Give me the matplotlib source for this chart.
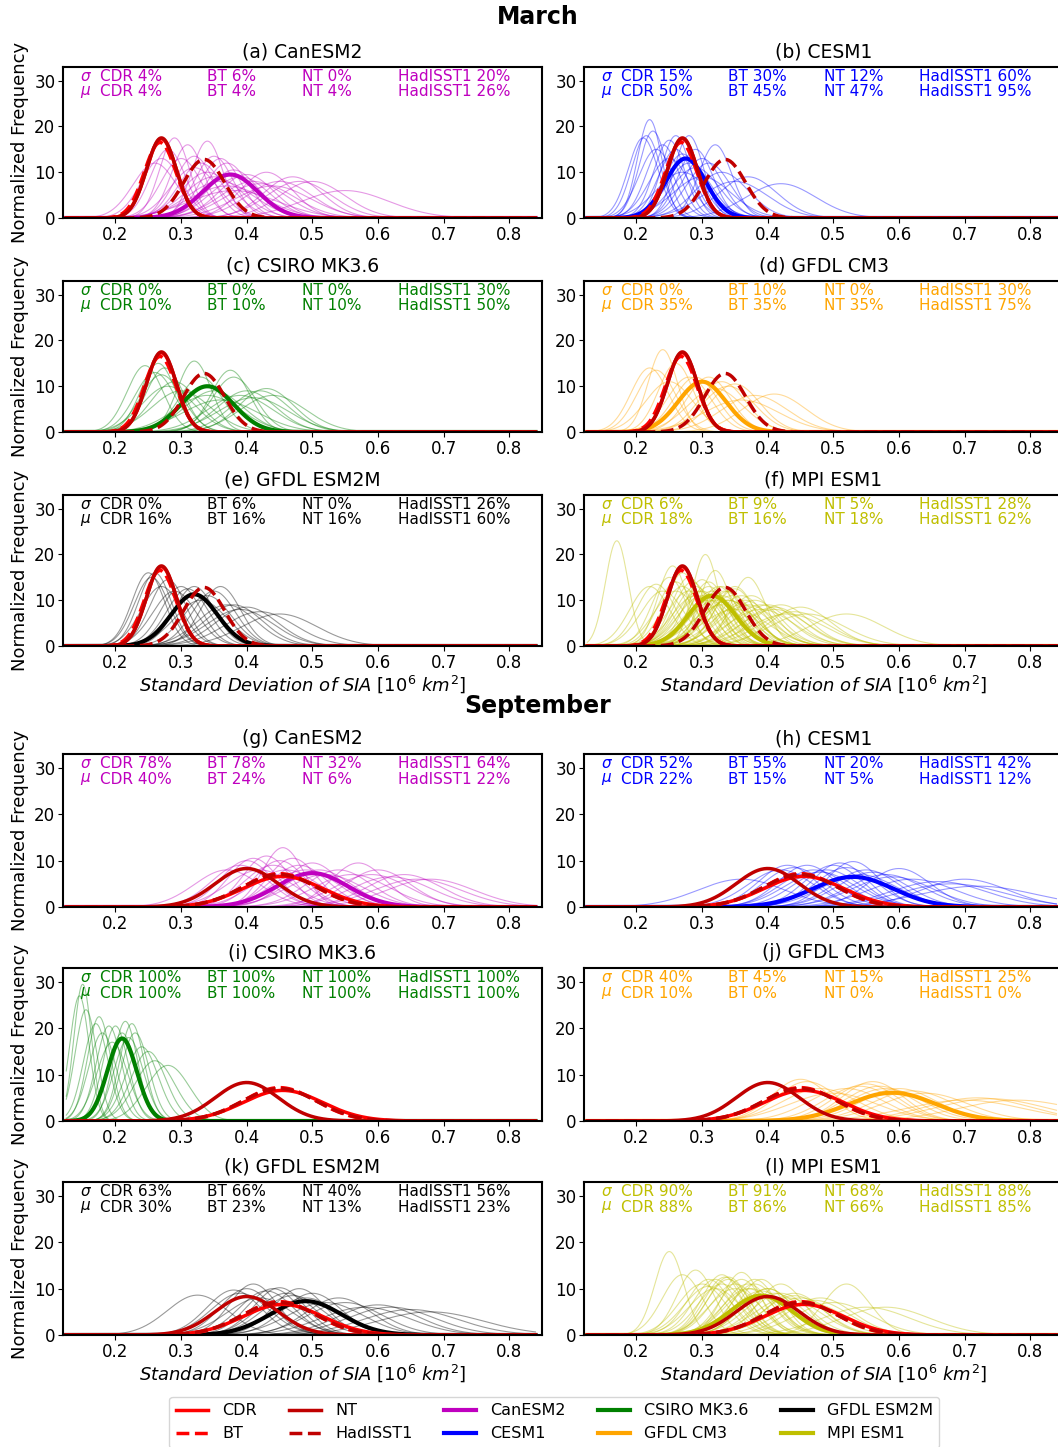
import numpy as np
import matplotlib.pyplot as plt

# ensemble member fits: mean and peak height of each curve
models = ['CanESM2', 'CESM1', 'CSIRO MK3.6', 'GFDL CM3', 'GFDL ESM2M', 'MPI ESM1']
model_colors = ['m', 'b', 'g', 'orange', 'k', 'y']

mar_mu = [
    [0.26, 0.27, 0.28, 0.29, 0.30, 0.31, 0.32, 0.32, 0.33, 0.34, 0.34, 0.35, 0.35, 0.36, 0.36,
     0.37, 0.37, 0.38, 0.38, 0.39, 0.40, 0.41, 0.42, 0.43, 0.44, 0.45, 0.47, 0.48, 0.50, 0.55],
    [0.21, 0.215, 0.22, 0.225, 0.23, 0.24, 0.25, 0.25, 0.26, 0.26, 0.27, 0.27, 0.28, 0.28, 0.29,
     0.29, 0.30, 0.30, 0.31, 0.32, 0.33, 0.35, 0.37, 0.42],
    [0.245, 0.26, 0.265, 0.27, 0.275, 0.28, 0.29, 0.30, 0.32, 0.33, 0.34, 0.35, 0.36, 0.375,
     0.38, 0.39, 0.40, 0.41, 0.42, 0.43, 0.44],
    [0.22, 0.23, 0.24, 0.25, 0.26, 0.28, 0.29, 0.30, 0.31, 0.32, 0.33, 0.34, 0.35, 0.36, 0.38, 0.41],
    [0.25, 0.255, 0.26, 0.27, 0.28, 0.29, 0.30, 0.31, 0.32, 0.33, 0.34, 0.35, 0.36, 0.37, 0.38,
     0.39, 0.40, 0.42, 0.45],
    [0.17, 0.22, 0.23, 0.24, 0.25, 0.255, 0.26, 0.27, 0.28, 0.28, 0.29, 0.29, 0.30, 0.30, 0.305,
     0.31, 0.31, 0.32, 0.32, 0.33, 0.33, 0.34, 0.34, 0.35, 0.35, 0.36, 0.37, 0.37, 0.38, 0.39,
     0.40, 0.41, 0.42, 0.43, 0.45, 0.46, 0.52, 0.26, 0.27, 0.285, 0.295, 0.30, 0.31, 0.315,
     0.32, 0.325, 0.33, 0.335, 0.34, 0.345, 0.35, 0.36, 0.365, 0.375, 0.39, 0.41, 0.44],
]
mar_pk = [
    [12, 13, 15, 17.5, 13, 16, 13.5, 11, 12, 16.8, 10, 13.5, 9, 13, 8,
     12, 7, 10.5, 6, 9, 9.5, 8, 7.5, 10, 7, 8, 9, 8, 8, 6],
    [17.5, 18, 21.5, 19, 15, 16, 13, 17, 15, 18, 14, 10, 18, 12, 15,
     11, 13, 9, 12, 16, 10, 8, 9, 7.5],
    [14.5, 13, 15, 12.5, 14, 10, 11, 9, 15.5, 12, 8, 9, 7, 13.5,
     12, 8, 9, 7.5, 9, 9.5, 8],
    [14, 13.5, 18, 11, 15, 12, 12, 11, 12, 9.5, 11, 10, 10.5, 7, 8, 8.3],
    [16, 15, 16, 13, 14.5, 12, 13, 12.5, 13, 10, 11, 12, 13, 9, 9,
     8, 8.5, 7.5, 7],
    [23, 13, 13.5, 12, 15, 17.5, 14, 16, 15, 12, 13, 11, 14.5, 12, 20,
     13, 10, 16.5, 11, 13, 9, 12, 10, 12.5, 8, 11, 15, 9, 10, 8,
     9, 8.5, 9, 7, 8.5, 7, 7, 12, 13, 14, 12, 11, 14, 12,
     10, 13, 11, 12, 10, 11, 13, 9, 10, 11, 9, 8, 7.5],
]
sep_mu = [
    [0.37, 0.39, 0.40, 0.41, 0.42, 0.43, 0.44, 0.45, 0.455, 0.46, 0.47, 0.48, 0.49, 0.50, 0.51,
     0.52, 0.54, 0.56, 0.57, 0.59, 0.60, 0.62, 0.64, 0.66, 0.68],
    [0.36, 0.42, 0.43, 0.44, 0.45, 0.46, 0.47, 0.48, 0.49, 0.50, 0.51, 0.52, 0.53, 0.54, 0.55,
     0.56, 0.58, 0.59, 0.60, 0.62, 0.66, 0.68, 0.70, 0.72],
    [0.145, 0.15, 0.155, 0.17, 0.175, 0.18, 0.19, 0.195, 0.20, 0.21, 0.215, 0.22, 0.225, 0.23,
     0.24, 0.25, 0.26, 0.28],
    [0.45, 0.46, 0.48, 0.50, 0.52, 0.54, 0.55, 0.56, 0.57, 0.58, 0.60, 0.62, 0.64, 0.70, 0.72,
     0.74, 0.78],
    [0.325, 0.38, 0.39, 0.40, 0.41, 0.42, 0.43, 0.44, 0.45, 0.46, 0.47, 0.48, 0.49, 0.50, 0.52,
     0.54, 0.55, 0.58, 0.60, 0.62, 0.65, 0.68],
    [0.25, 0.27, 0.29, 0.30, 0.31, 0.32, 0.33, 0.335, 0.34, 0.35, 0.36, 0.37, 0.38, 0.39, 0.40,
     0.41, 0.42, 0.43, 0.44, 0.45, 0.46, 0.48, 0.50, 0.52, 0.55, 0.58, 0.31, 0.32, 0.33, 0.34,
     0.35, 0.36, 0.37, 0.375, 0.38, 0.39, 0.40, 0.42, 0.44, 0.47],
]
sep_pk = [
    [8, 9, 10, 10.5, 8, 11, 9, 10, 12.8, 8, 10.5, 9, 8, 9.5, 8,
     7, 8, 7, 9.5, 7, 8, 6.5, 7, 6, 6],
    [6, 8, 9, 8.5, 7, 9, 8, 7.5, 8, 9, 9.5, 8.5, 9.8, 7, 8,
     7.5, 7, 6.5, 8.3, 6, 5.5, 5, 6, 4.5],
    [27, 29.5, 24, 21, 22.5, 19, 20.5, 17, 20.5, 19, 21.5, 18, 21, 19,
     16, 15, 13, 12],
    [9, 8.5, 7, 6, 7, 7.5, 8, 8.5, 7.5, 7, 7, 6.5, 6, 4.5, 5,
     4.8, 4.5],
    [8.6, 9.7, 9, 10, 11, 8, 9.5, 10, 10.2, 9, 8.5, 10, 8, 9, 7,
     8, 7, 6, 6.5, 6, 5.5, 5],
    [18, 13, 14, 11, 12, 10, 13, 12.5, 12, 11, 13.5, 10, 11, 12, 10,
     9, 11, 8, 9, 8, 7, 8, 7, 11, 6, 6, 10.5, 12, 11, 12.5,
     10, 12, 11, 10, 12, 9.5, 10, 9, 8.5, 7.5],
]

# ensemble mean fits
mar_mean_mu = [0.375, 0.275, 0.34, 0.30, 0.32, 0.315]
mar_mean_pk = [9.5, 13, 10, 11, 11.3, 11]
sep_mean_mu = [0.50, 0.53, 0.21, 0.59, 0.49, 0.39]
sep_mean_pk = [7.3, 6.5, 17.8, 6.1, 7.3, 8.5]

# observations: CDR, BT, NT, HadISST1
obs_names = ['CDR', 'BT', 'NT', 'HadISST1']
obs_colors = ['red', 'red', '#c00000', '#c00000']
obs_styles = ['-', '--', '-', '--']
mar_obs_mu = [0.27, 0.268, 0.27, 0.335]
mar_obs_pk = [17.3, 16.5, 17.5, 12.8]
sep_obs_mu = [0.455, 0.45, 0.40, 0.45]
sep_obs_pk = [6.6, 7.2, 8.3, 7.0]

# percentages printed in each panel (sigma row, mu row)
mar_sig = [[4, 6, 0, 20], [15, 30, 12, 60], [0, 0, 0, 30],
           [0, 10, 0, 30], [0, 6, 0, 26], [6, 9, 5, 28]]
mar_mean = [[4, 4, 4, 26], [50, 45, 47, 95], [10, 10, 10, 50],
            [35, 35, 35, 75], [16, 16, 16, 60], [18, 16, 18, 62]]
sep_sig = [[78, 78, 32, 64], [52, 55, 20, 42], [100, 100, 100, 100],
           [40, 45, 15, 25], [63, 66, 40, 56], [90, 91, 68, 88]]
sep_mean = [[40, 24, 6, 22], [22, 15, 5, 12], [100, 100, 100, 100],
            [10, 0, 0, 0], [30, 23, 13, 23], [88, 86, 66, 85]]

letters = 'abcdefghijkl'
x = np.linspace(0.125, 0.84, 500)


def gauss(mu, peak):
    s = 1.0 / (peak * np.sqrt(2 * np.pi))
    return np.exp(-0.5 * ((x - mu) / s) ** 2) / (s * np.sqrt(2 * np.pi))


fig = plt.figure(figsize=(10.58, 14.47), dpi=100)
W, H = 1058, 1447
row_px = [(67, 218), (281, 432), (495, 646), (754, 907), (968, 1121), (1182, 1335)]
col_px = [63, 584]
axw = 479 / W

xlabel = r'$\it{Standard\ Deviation\ of\ SIA}$ [10$^6$ $\it{km}^2$]'

for i in range(12):
    season = i // 6
    k = i % 6
    row = i // 2
    col = i % 2
    top, bot = row_px[row]
    ax = fig.add_axes([col_px[col] / W, 1 - bot / H, axw, (bot - top) / H])

    if season == 0:
        mus, pks = mar_mu[k], mar_pk[k]
        mmu, mpk = mar_mean_mu[k], mar_mean_pk[k]
        omu, opk = mar_obs_mu, mar_obs_pk
        sig, mea = mar_sig[k], mar_mean[k]
    else:
        mus, pks = sep_mu[k], sep_pk[k]
        mmu, mpk = sep_mean_mu[k], sep_mean_pk[k]
        omu, opk = sep_obs_mu, sep_obs_pk
        sig, mea = sep_sig[k], sep_mean[k]
    c = model_colors[k]

    for m, p in zip(mus, pks):
        ax.plot(x, gauss(m, p), color=c, lw=0.8, alpha=0.4)
    ax.plot(x, gauss(mmu, mpk), color=c, lw=3)
    for j in range(4):
        ax.plot(x, gauss(omu[j], opk[j]), color=obs_colors[j], ls=obs_styles[j], lw=2.5)

    ax.set_xlim(0.12, 0.85)
    ax.set_ylim(0, 33)
    ax.set_xticks([0.2, 0.3, 0.4, 0.5, 0.6, 0.7, 0.8])
    ax.set_yticks([0, 10, 20, 30])
    ax.tick_params(labelsize=12, pad=2)
    for sp in ax.spines.values():
        sp.set_linewidth(1.5)
    ax.set_title('(%s) %s' % (letters[i], models[k]), fontsize=13.5, pad=7)
    if col == 0:
        ax.set_ylabel('Normalized Frequency', fontsize=13)
    if row in (2, 5):
        ax.set_xlabel(xlabel, fontsize=13, labelpad=1)

    tc = c
    ax.text(0.035, 0.935, r'$\sigma$', color=tc, transform=ax.transAxes, fontsize=11, va='center')
    ax.text(0.035, 0.835, r'$\mu$', color=tc, transform=ax.transAxes, fontsize=11, va='center')
    xs = [0.077, 0.30, 0.50, 0.70]
    for j in range(4):
        ax.text(xs[j], 0.935, '%s %d%%' % (obs_names[j], sig[j]), color=tc,
                transform=ax.transAxes, fontsize=11, va='center')
        ax.text(xs[j], 0.835, '%s %d%%' % (obs_names[j], mea[j]), color=tc,
                transform=ax.transAxes, fontsize=11, va='center')

fig.text(0.508, 1 - 17 / H, 'March', fontsize=17, fontweight='bold', ha='center', va='center')
fig.text(0.508, 1 - 706 / H, 'September', fontsize=17, fontweight='bold', ha='center', va='center')

handles = []
for j in range(4):
    h, = plt.plot([], [], color=obs_colors[j], ls=obs_styles[j], lw=2.5, label=obs_names[j])
    handles.append(h)
for k in range(6):
    h, = plt.plot([], [], color=model_colors[k], lw=3, label=models[k])
    handles.append(h)
fig.legend(handles=handles, loc='upper center', bbox_to_anchor=(0.524, 1 - 1397 / H),
           ncol=5, fontsize=11.5, frameon=True, handlelength=2.0, columnspacing=2.0,
           borderaxespad=0, handletextpad=0.9, labelspacing=0.5)

fig.savefig('out.png', dpi=100)
